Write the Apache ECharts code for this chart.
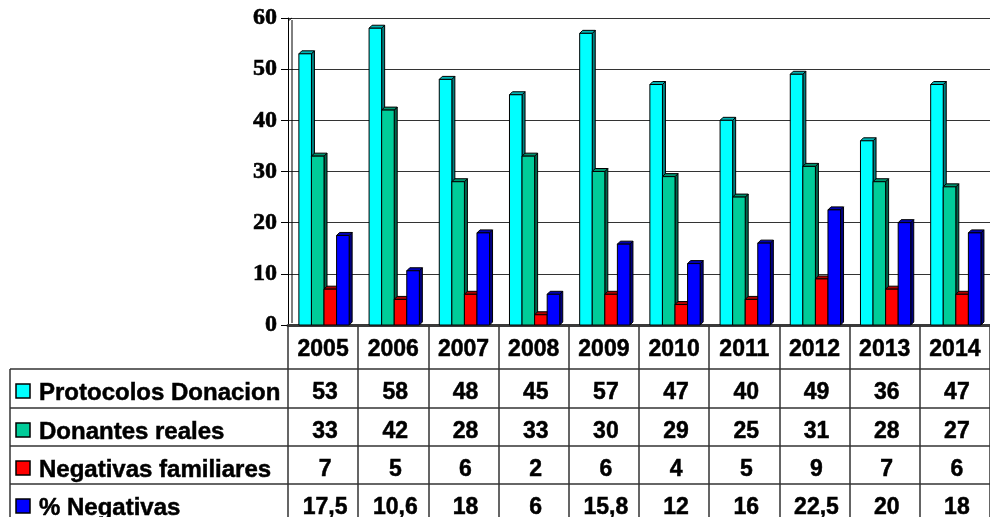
<!DOCTYPE html>
<html>
<head>
<meta charset="utf-8">
<script src="https://cdn.jsdelivr.net/npm/echarts@6/dist/echarts.min.js"></script>
<style>
  html, body { margin: 0; padding: 0; background: #fff; }
  #chart { width: 990px; height: 517px; }
</style>
</head>
<body>
<div id="chart"></div>
<script>
// data
const years = ['2005', '2006', '2007', '2008', '2009', '2010', '2011', '2012', '2013', '2014']
const protocolos = [53, 58, 48, 45, 57, 47, 40, 49, 36, 47]
const donantes = [33, 42, 28, 33, 30, 29, 25, 31, 28, 27]
const negativasFam = [7, 5, 6, 2, 6, 4, 5, 9, 7, 6]
const pctNegativas = [17.5, 10.6, 18, 6, 15.8, 12, 16, 22.5, 20, 18]
const yTicks = [0, 10, 20, 30, 40, 50, 60]

const seriesDefs = [
  { name: 'Protocolos Donacion', data: protocolos, color: '#00FFFF', top: '#00B3B3', side: '#007F7F' },
  { name: 'Donantes reales', data: donantes, color: '#00CC99', top: '#00936E', side: '#00664C' },
  { name: 'Negativas familiares', data: negativasFam, color: '#FF0000', top: '#B30000', side: '#800000' },
  { name: '% Negativas', data: pctNegativas, color: '#0000FF', top: '#0000B3', side: '#000080' }
]

const chart = echarts.init(document.getElementById('chart'))

// 3D looking bar: front face + top face + right side
const bar3d = (def, idx) => (params, api) => {
  const p = api.coord([api.value(0), api.value(1)])
  const b = api.coord([api.value(0), 0])
  const W = api.size([1, 0])[0]
  const bw = W * 0.179
  const x0 = p[0] - W * 0.345 + idx * bw
  const d = 3
  const st = { stroke: '#000', lineWidth: 1 }
  return {
    type: 'group',
    children: [
      { type: 'polygon', shape: { points: [[x0 + bw, p[1]], [x0 + bw + d, p[1] - d], [x0 + bw + d, b[1] - d], [x0 + bw, b[1]]] }, style: Object.assign({ fill: def.side }, st) },
      { type: 'polygon', shape: { points: [[x0, p[1]], [x0 + d, p[1] - d], [x0 + bw + d, p[1] - d], [x0 + bw, p[1]]] }, style: Object.assign({ fill: def.top }, st) },
      { type: 'rect', shape: { x: x0, y: p[1], width: bw, height: b[1] - p[1] }, style: Object.assign({ fill: def.color }, st) }
    ]
  }
}

const sansFont = '"Liberation Sans", Arial, sans-serif'

const option = {
  animation: false,
  backgroundColor: '#fff',
  grid: { left: 288, top: 18, width: 711, height: 307 },
  xAxis: {
    type: 'category',
    data: years,
    axisLine: { lineStyle: { color: '#3a3a3a', width: 3 } },
    axisTick: { show: true, length: 200, lineStyle: { color: '#333', width: 1.5 } },
    axisLabel: {
      margin: 25,
      verticalAlign: 'middle',
      color: '#000',
      fontFamily: sansFont,
      fontWeight: 'bold',
      fontSize: 23,
      textBorderColor: '#000',
      textBorderWidth: 0.5
    },
    splitLine: { show: false }
  },
  yAxis: {
    type: 'value',
    min: 0,
    max: 60,
    interval: 10,
    axisLine: { show: true, lineStyle: { color: '#000', width: 1 } },
    axisTick: { show: true, length: 7, lineStyle: { color: '#000' } },
    axisLabel: {
      margin: 11,
      color: '#000',
      fontFamily: '"Liberation Serif", "Times New Roman", serif',
      fontWeight: 'bold',
      fontSize: 24,
      textBorderColor: '#000',
      textBorderWidth: 0.6,
      formatter: v => yTicks.includes(v) ? String(v) : ''
    },
    splitLine: { lineStyle: { color: '#333', width: 1 } }
  },
  series: seriesDefs.map((def, idx) => ({
    name: def.name,
    type: 'custom',
    renderItem: bar3d(def, idx),
    data: def.data.map((v, i) => [i, v]),
    clip: false,
    z: 3
  }))
}

chart.setOption(option)

// data table below the plot
const fmt = v => String(v).replace('.', ',')
const rowY = [369, 408, 446, 484]
const rowH = 38
const lineColor = '#333'
const graphics = []

// inner wall line of the 3D y axis
const gTop = chart.convertToPixel({ yAxisIndex: 0 }, 60)
const gBot = chart.convertToPixel({ yAxisIndex: 0 }, 0)
graphics.push({ type: 'line', shape: { x1: 292, y1: gTop + 2, x2: 292, y2: gBot - 2 }, style: { stroke: '#000', lineWidth: 1 }, z: 1 })
graphics.push({ type: 'line', shape: { x1: 288, y1: gTop + 3, x2: 292, y2: gTop }, style: { stroke: '#000', lineWidth: 1 }, z: 1 })

rowY.forEach(y => {
  graphics.push({ type: 'line', shape: { x1: 10, y1: y, x2: 990, y2: y }, style: { stroke: lineColor, lineWidth: 1.5 }, z: 5 })
})
graphics.push({ type: 'line', shape: { x1: 10, y1: 369, x2: 10, y2: 517 }, style: { stroke: lineColor, lineWidth: 1.5 }, z: 5 })

const cellText = (text, x, y, align, size) => ({
  type: 'text', x: x, y: y, z: 6,
  style: {
    text: text, fill: '#000', stroke: '#000', lineWidth: 0.5,
    font: 'bold ' + size + 'px ' + sansFont,
    align: align, verticalAlign: 'middle'
  }
})

seriesDefs.forEach((def, r) => {
  const cy = rowY[r] + rowH / 2 + 5
  graphics.push({ type: 'rect', shape: { x: 16, y: cy - 9, width: 14, height: 14 }, style: { fill: def.color, stroke: '#000', lineWidth: 1.5 }, z: 6 })
  graphics.push(cellText(def.name, 39, cy, 'left', 24))
  def.data.forEach((v, i) => {
    const cx = chart.convertToPixel({ xAxisIndex: 0 }, i)
    graphics.push(cellText(fmt(v), cx + 2, cy, 'center', 23))
  })
})

chart.setOption({ graphic: graphics })
</script>
</body>
</html>
